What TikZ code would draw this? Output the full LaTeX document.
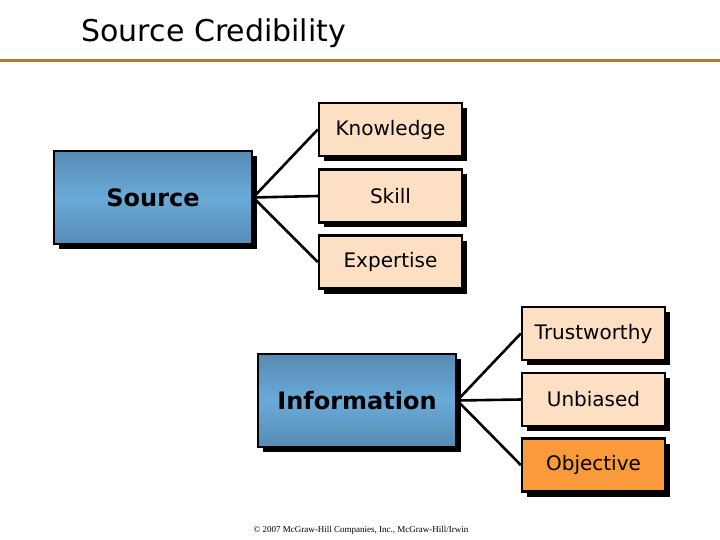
\documentclass[tikz,border=0pt]{standalone}
\usepackage{fontspec}
\setmainfont{DejaVu Sans}
\newfontfamily\notefont{Liberation Serif}
\usetikzlibrary{shadows}
\definecolor{peach}{RGB}{253,224,196}
\definecolor{orangebox}{RGB}{251,154,59}
\definecolor{rulebrown}{RGB}{188,116,44}
\definecolor{bluedark}{RGB}{86,139,180}
\definecolor{bluelight}{RGB}{106,170,216}
\begin{document}
\begin{tikzpicture}[x=1pt,y=-1pt,
  boxshadow/.style={drop shadow={shadow xshift=5pt,shadow yshift=-5pt,opacity=1,fill=black}},
  mainbox/.style={boxshadow,draw=black,line width=2.4pt,top color=bluedark,bottom color=bluedark,middle color=bluelight,
    minimum width=198pt,minimum height=93pt,inner sep=0pt,font=\fontsize{24}{28}\selectfont\bfseries},
  itembox/.style={boxshadow,draw=black,line width=2.4pt,fill=peach,
    minimum width=143pt,minimum height=53pt,inner sep=0pt,font=\fontsize{20}{24}\selectfont},
  link/.style={line width=2.6pt}]
\useasboundingbox (0,0) rectangle (720,540);
\node[anchor=west,font=\fontsize{30}{34}\selectfont] (title) at (78,33) {Source Credibility};
\draw[rulebrown,line width=3pt] (0,61) -- (720,61);
\node[mainbox] (source) at (153,197.5) {Source};
\node[itembox] (knowledge) at (390.5,129.5) {Knowledge};
\node[itembox] (skill) at (390.5,196) {Skill};
\node[itembox] (expertise) at (390.5,262) {Expertise};
\node[mainbox] (information) at (357,400.5) {Information};
\node[itembox] (trust) at (593.5,333.5) {Trustworthy};
\node[itembox] (unbiased) at (593.5,399.5) {Unbiased};
\node[itembox,fill=orangebox] (objective) at (593.5,465) {Objective};
\foreach \n in {knowledge,skill,expertise}
  \draw[link] (source.east) -- (\n.west);
\foreach \n in {trust,unbiased,objective}
  \draw[link] (information.east) -- (\n.west);
\node[font=\notefont\fontsize{9}{11}\selectfont] (note) at (361,530) {\textcopyright{} 2007 McGraw-Hill Companies, Inc., McGraw-Hill/Irwin};
\end{tikzpicture}
\end{document}
